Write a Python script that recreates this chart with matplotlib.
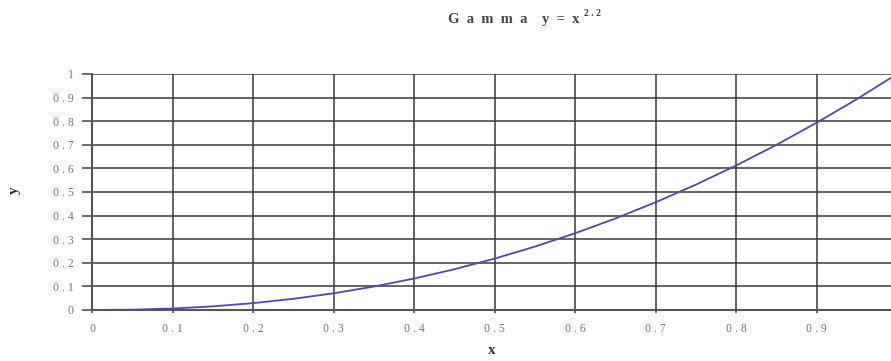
import matplotlib
matplotlib.use("Agg")
import matplotlib.pyplot as plt

xs = [0, 0.05, 0.1, 0.15, 0.2, 0.25, 0.3, 0.35, 0.4, 0.45, 0.5,
      0.55, 0.6, 0.65, 0.7, 0.75, 0.8, 0.85, 0.9, 0.95, 1.0]
ys = [0, 0.0014, 0.0063, 0.0154, 0.029, 0.0474, 0.0707, 0.0993, 0.1332, 0.1726, 0.2176,
      0.2684, 0.325, 0.3876, 0.4563, 0.531, 0.612, 0.6994, 0.7931, 0.8933, 1.0]

xticks = [0, 0.1, 0.2, 0.3, 0.4, 0.5, 0.6, 0.7, 0.8, 0.9]
xlabels = ["0", "0 . 1", "0 . 2", "0 . 3", "0 . 4", "0 . 5", "0 . 6", "0 . 7", "0 . 8", "0 . 9"]
yticks = [0, 0.1, 0.2, 0.3, 0.4, 0.5, 0.6, 0.7, 0.8, 0.9, 1.0]
ylabels = ["0", "0 . 1", "0 . 2", "0 . 3", "0 . 4", "0 . 5", "0 . 6", "0 . 7", "0 . 8", "0 . 9", "1"]

plt.rcParams['font.family'] = ['Liberation Serif', 'DejaVu Serif']

fig = plt.figure(figsize=(8.91, 3.61), dpi=100)
ax = fig.add_axes([92/891, 1-310/361, 1-92/891, 236/361])

ax.plot(xs, ys, color="#4a4ab4", lw=1.3, zorder=3)

ax.set_xlim(0, (891-92)/805)
ax.set_ylim(0, 1)
ax.set_xticks(xticks)
ax.set_xticklabels(xlabels)
ax.set_yticks(yticks)
ax.set_yticklabels(ylabels)
ax.grid(True, color="#3a3a3a", lw=1.1)
for s in ["top", "right"]:
    ax.spines[s].set_visible(False)
for s in ["left", "bottom"]:
    ax.spines[s].set_color("#555555")
    ax.spines[s].set_linewidth(1.5)
ax.tick_params(axis="y", length=7, width=1.2, color="#555555", labelsize=8.5, labelcolor="#777777", pad=6)
ax.tick_params(axis="x", length=2, width=1.2, color="#555555", labelsize=8.5, labelcolor="#777777", pad=7)

fig.text(492/891, 1-350/361, "x", ha="center", va="center", fontsize=11, fontweight="bold", color="#333333")
fig.text(14/891, 1-190/361, "y", ha="center", va="center", fontsize=11, fontweight="bold", color="#333333", rotation=90)

fig.text(579/891, 1-19/361, "G  a  m  m  a    y  =  x", ha="right", va="center", fontsize=10.5, fontweight="bold", color="#444444")
fig.text(584/891, 1-13/361, "2 . 2", ha="left", va="center", fontsize=7, fontweight="bold", color="#444444")

fig.savefig("out.png", dpi=100)
